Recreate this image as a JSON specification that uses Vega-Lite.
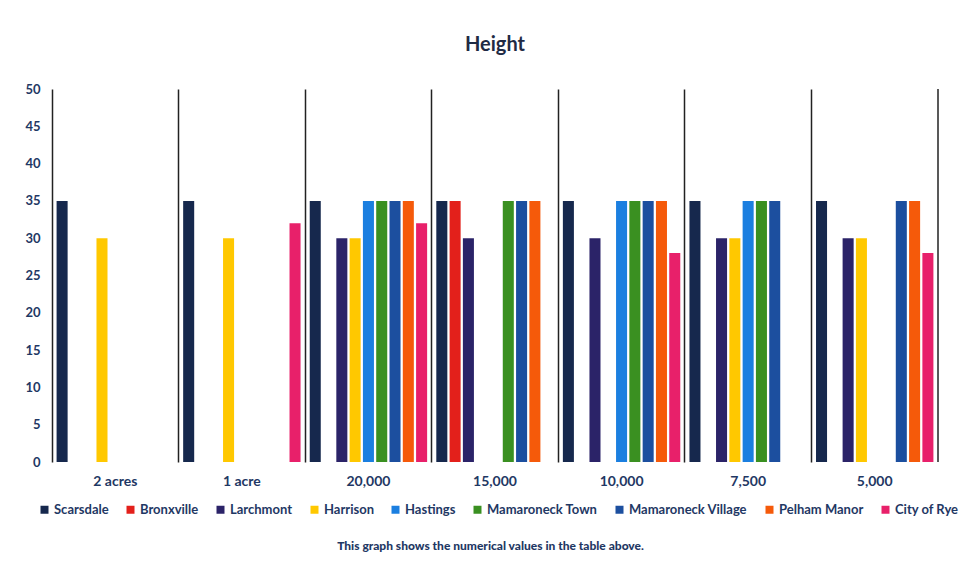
{
  "$schema": "https://vega.github.io/schema/vega-lite/v6.json",
  "autosize": {"type": "none"},
  "padding": {"left": 52, "top": 89, "right": 28, "bottom": 100},
  "width": 886,
  "height": 373,
  "background": "white",
  "title": {"text": "Height", "font": "Lato", "fontSize": 20, "fontWeight": "bold", "color": "#1f2a44", "baseline": "alphabetic", "offset": 12},
  "config": {"view": {"stroke": null}},
  "datasets": {
    "bars": [
      {"Lot": "2 acres", "Town": "Scarsdale", "Height": 35},
      {"Lot": "2 acres", "Town": "Harrison", "Height": 30},
      {"Lot": "1 acre", "Town": "Scarsdale", "Height": 35},
      {"Lot": "1 acre", "Town": "Harrison", "Height": 30},
      {"Lot": "1 acre", "Town": "City of Rye", "Height": 32},
      {"Lot": "20,000", "Town": "Scarsdale", "Height": 35},
      {"Lot": "20,000", "Town": "Larchmont", "Height": 30},
      {"Lot": "20,000", "Town": "Harrison", "Height": 30},
      {"Lot": "20,000", "Town": "Hastings", "Height": 35},
      {"Lot": "20,000", "Town": "Mamaroneck Town", "Height": 35},
      {"Lot": "20,000", "Town": "Mamaroneck Village", "Height": 35},
      {"Lot": "20,000", "Town": "Pelham Manor", "Height": 35},
      {"Lot": "20,000", "Town": "City of Rye", "Height": 32},
      {"Lot": "15,000", "Town": "Scarsdale", "Height": 35},
      {"Lot": "15,000", "Town": "Bronxville", "Height": 35},
      {"Lot": "15,000", "Town": "Larchmont", "Height": 30},
      {"Lot": "15,000", "Town": "Mamaroneck Town", "Height": 35},
      {"Lot": "15,000", "Town": "Mamaroneck Village", "Height": 35},
      {"Lot": "15,000", "Town": "Pelham Manor", "Height": 35},
      {"Lot": "10,000", "Town": "Scarsdale", "Height": 35},
      {"Lot": "10,000", "Town": "Larchmont", "Height": 30},
      {"Lot": "10,000", "Town": "Hastings", "Height": 35},
      {"Lot": "10,000", "Town": "Mamaroneck Town", "Height": 35},
      {"Lot": "10,000", "Town": "Mamaroneck Village", "Height": 35},
      {"Lot": "10,000", "Town": "Pelham Manor", "Height": 35},
      {"Lot": "10,000", "Town": "City of Rye", "Height": 28},
      {"Lot": "7,500", "Town": "Scarsdale", "Height": 35},
      {"Lot": "7,500", "Town": "Larchmont", "Height": 30},
      {"Lot": "7,500", "Town": "Harrison", "Height": 30},
      {"Lot": "7,500", "Town": "Hastings", "Height": 35},
      {"Lot": "7,500", "Town": "Mamaroneck Town", "Height": 35},
      {"Lot": "7,500", "Town": "Mamaroneck Village", "Height": 35},
      {"Lot": "5,000", "Town": "Scarsdale", "Height": 35},
      {"Lot": "5,000", "Town": "Larchmont", "Height": 30},
      {"Lot": "5,000", "Town": "Harrison", "Height": 30},
      {"Lot": "5,000", "Town": "Mamaroneck Village", "Height": 35},
      {"Lot": "5,000", "Town": "Pelham Manor", "Height": 35},
      {"Lot": "5,000", "Town": "City of Rye", "Height": 28}
    ],
    "edge": [{"Lot": "5,000"}]
  },
  "layer": [
    {
      "data": {"name": "bars"},
      "mark": {"type": "bar"},
      "encoding": {
        "x": {
          "field": "Lot", "type": "nominal",
          "scale": {"domain": ["2 acres", "1 acre", "20,000", "15,000", "10,000", "7,500", "5,000"], "paddingInner": 0, "paddingOuter": 0},
          "axis": {
            "title": "This graph shows the numerical values in the table above.",
            "titleFont": "Lato", "titleFontSize": 12, "titleFontWeight": 900, "titleColor": "#1f3864",
            "titleY": 83, "titleBaseline": "middle", "titleX": 438,
            "labelAngle": 0, "labelFont": "Lato", "labelFontSize": 14, "labelFontWeight": "bold", "labelColor": "#1f3864",
            "labelPadding": 12, "ticks": false, "domain": false,
            "grid": true, "bandPosition": 0, "gridColor": "#222222", "gridWidth": 1.5, "gridOpacity": 1
          }
        },
        "xOffset": {
          "field": "Town", "type": "nominal",
          "scale": {"domain": ["Scarsdale", "Bronxville", "Larchmont", "Harrison", "Hastings", "Mamaroneck Town", "Mamaroneck Village", "Pelham Manor", "City of Rye"], "paddingInner": 0.17, "paddingOuter": 0.345}
        },
        "y": {
          "field": "Height", "type": "quantitative",
          "scale": {"domain": [0, 50], "nice": false},
          "axis": {
            "title": null, "values": [0, 5, 10, 15, 20, 25, 30, 35, 40, 45, 50],
            "labelFont": "Lato", "labelFontSize": 13, "labelFontWeight": "bold", "labelColor": "#1f3864",
            "labelPadding": 12, "ticks": false, "domain": false, "grid": false
          }
        },
        "color": {
          "field": "Town", "type": "nominal",
          "scale": {
            "domain": ["Scarsdale", "Bronxville", "Larchmont", "Harrison", "Hastings", "Mamaroneck Town", "Mamaroneck Village", "Pelham Manor", "City of Rye"],
            "range": ["#16284d", "#e3201b", "#2b2368", "#ffc800", "#1b7fe0", "#3a9021", "#1c4f9f", "#f55a0a", "#e8206a"]
          },
          "legend": {
            "title": null, "orient": "none", "direction": "horizontal", "legendX": -14, "legendY": 414,
            "symbolType": "square", "symbolSize": 64, "symbolStrokeWidth": 0,
            "labelFont": "Lato", "labelFontSize": 13, "labelFontWeight": "bold", "labelColor": "#1f3864",
            "labelOffset": 3, "columnPadding": 15
          }
        }
      }
    },
    {
      "data": {"name": "edge"},
      "mark": {"type": "rule", "color": "#222222", "strokeWidth": 1.5},
      "encoding": {
        "x": {"field": "Lot", "type": "nominal", "bandPosition": 1}
      }
    }
  ]
}
